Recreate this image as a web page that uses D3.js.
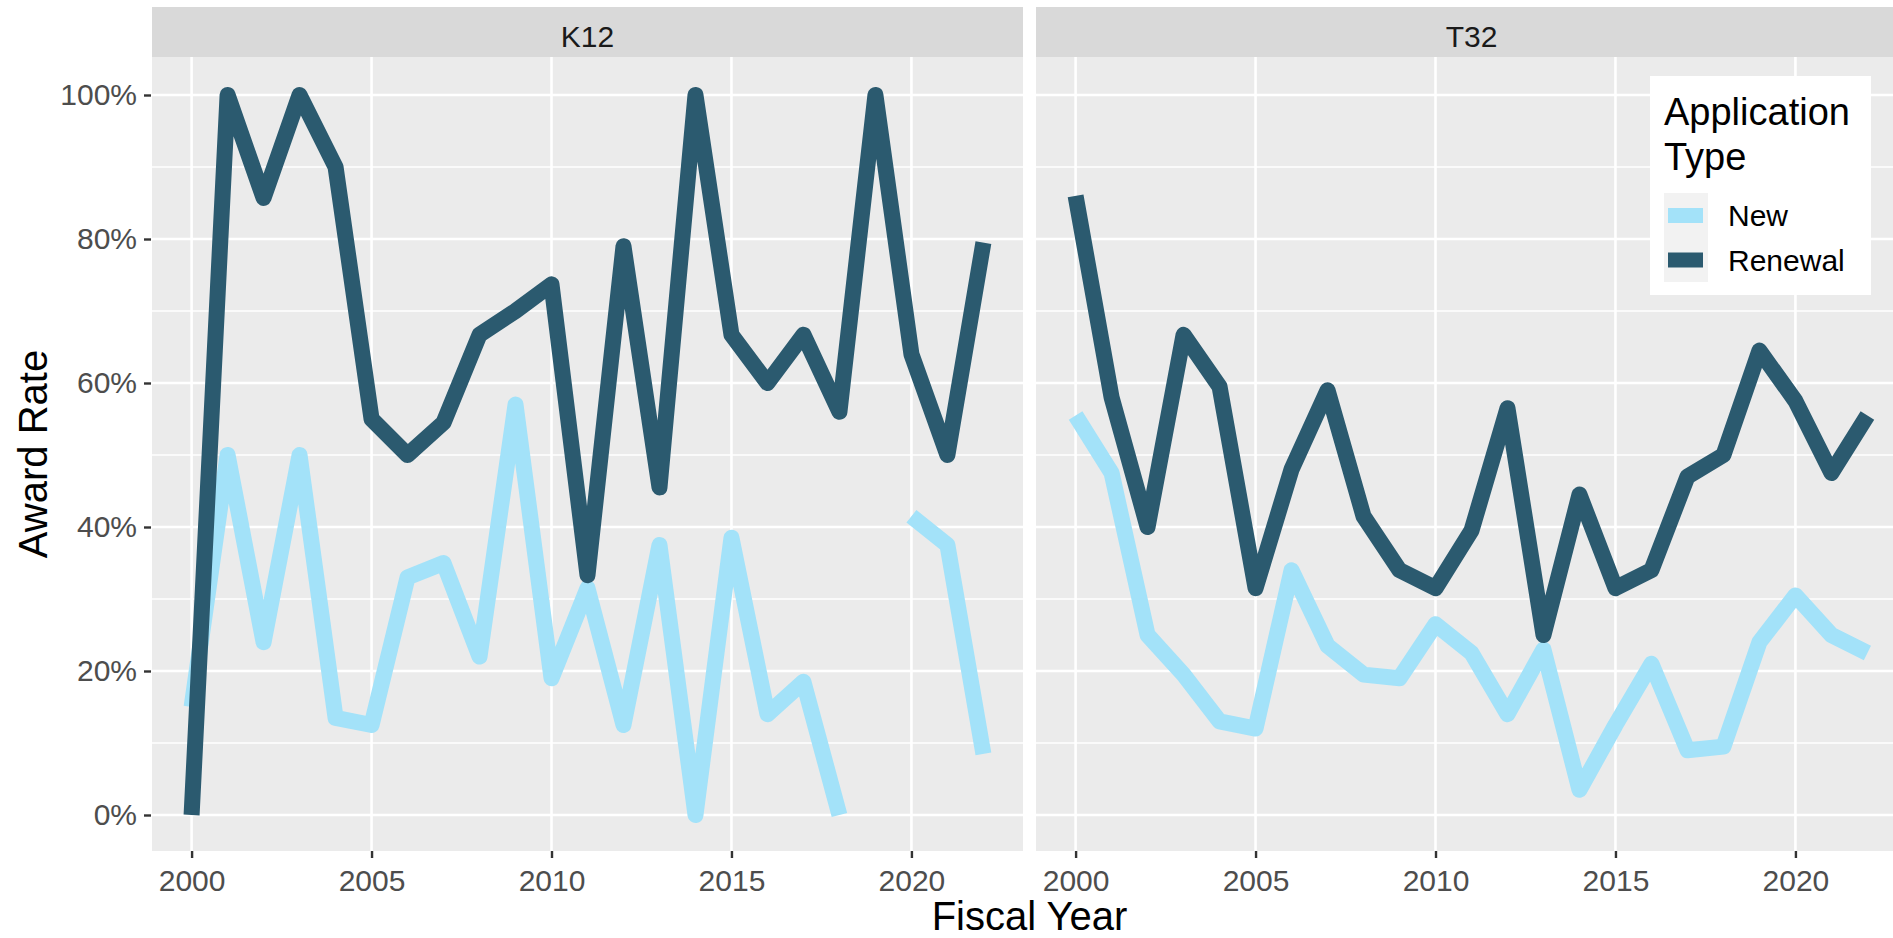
<!DOCTYPE html>
<html>
<head>
<meta charset="utf-8">
<script src="https://cdn.jsdelivr.net/npm/d3@7"></script>
<style>
  body { margin: 0; background: #fff; }
  svg { display: block; font-family: "Liberation Sans", Arial, sans-serif; }
</style>
</head>
<body>
<script>
// award rates (%) by fiscal year
let years = [2000, 2001, 2002, 2003, 2004, 2005, 2006, 2007, 2008, 2009, 2010, 2011,
             2012, 2013, 2014, 2015, 2016, 2017, 2018, 2019, 2020, 2021, 2022];
let facets = ["K12", "T32"];
let appTypes = ["New", "Renewal"];

let k12New     = [15, 50, 24, 50, 13.5, 12.5, 33, 35, 22, 57, 19, 31.5,
                  12.5, 37.5, 0, 38.5, 14, 18.5, 0, null, 41.5, 37.5, 8.5];
let k12Renewal = [0, 100, 85.7, 100, 90, 55, 50, 54.5, 66.7, 70, 73.7, 33.3,
                  79, 45.5, 100, 66.7, 60, 66.7, 56, 100, 64, 50, 79.5];
let t32New     = [55.5, 47.5, 25, 19.5, 13, 12, 34, 23.5, 19.5, 19, 26.5, 22.5,
                  14, 23, 3.5, 12.5, 21, 9, 9.5, 24, 30.5, 25, 22.5];
let t32Renewal = [86, 58, 40, 66.7, 59.5, 31.5, 48, 59, 41.5, 34, 31.5, 39.5,
                  56.5, 25, 44.5, 31.5, 34, 47, 50, 64.5, 57.5, 47.5, 55.5];

let yTicks = [0, 20, 40, 60, 80, 100];
let yMinor = [10, 30, 50, 70, 90];
let xTicks = [2000, 2005, 2010, 2015, 2020];
let colors = {New: "#A3E2F9", Renewal: "#2B5A6F"};

let series = {
    K12: {New: k12New, Renewal: k12Renewal},
    T32: {New: t32New, Renewal: t32Renewal}
};

function draw() {
    let W = 1893, H = 938;
    let panelLeft = 152, panelW = 871, gap = 13;
    let stripTop = 7, panelTop = 57, panelBottom = 851;

    let svg = d3.select("body").append("svg")
        .attr("width", W)
        .attr("height", H);

    svg.append("rect").attr("width", W).attr("height", H).attr("fill", "#fff");

    let y = d3.scaleLinear().domain([-5, 105]).range([panelBottom, panelTop + 2]);

    facets.forEach(function (f, i) {
        let x0 = panelLeft + i * (panelW + gap);
        let x = d3.scaleLinear().domain([1998.9, 2023.1]).range([x0, x0 + panelW]);
        let g = svg.append("g");

        // strip
        g.append("rect")
            .attr("x", x0).attr("y", stripTop)
            .attr("width", panelW).attr("height", panelTop - stripTop)
            .attr("fill", "#D9D9D9");
        g.append("text")
            .attr("x", x0 + panelW / 2).attr("y", 47)
            .attr("text-anchor", "middle")
            .attr("font-size", 30)
            .attr("fill", "#1A1A1A")
            .text(f);

        // panel background + grid
        g.append("rect")
            .attr("x", x0).attr("y", panelTop)
            .attr("width", panelW).attr("height", panelBottom - panelTop)
            .attr("fill", "#EBEBEB");

        g.selectAll(".ymin").data(yMinor).enter().append("line")
            .attr("x1", x0).attr("x2", x0 + panelW)
            .attr("y1", d => y(d)).attr("y2", d => y(d))
            .attr("stroke", "#fff").attr("stroke-width", 1.4);
        g.selectAll(".ymaj").data(yTicks).enter().append("line")
            .attr("x1", x0).attr("x2", x0 + panelW)
            .attr("y1", d => y(d)).attr("y2", d => y(d))
            .attr("stroke", "#fff").attr("stroke-width", 2.6);
        g.selectAll(".xmaj").data(xTicks).enter().append("line")
            .attr("x1", d => x(d)).attr("x2", d => x(d))
            .attr("y1", panelTop).attr("y2", panelBottom)
            .attr("stroke", "#fff").attr("stroke-width", 2.6);

        // lines
        let line = d3.line()
            .defined(d => d.v != null)
            .x(d => x(d.year))
            .y(d => y(d.v));

        appTypes.forEach(function (t) {
            let pts = years.map((yr, j) => ({year: yr, v: series[f][t][j]}));
            g.append("path")
                .datum(pts)
                .attr("d", line)
                .attr("fill", "none")
                .attr("stroke", colors[t])
                .attr("stroke-width", 16)
                .attr("stroke-linejoin", "round")
                .attr("stroke-linecap", "butt");
        });

        // x axis
        let xAxis = g.append("g")
            .attr("transform", "translate(0," + panelBottom + ")")
            .call(d3.axisBottom(x).tickValues(xTicks).tickFormat(d3.format("d"))
                .tickSize(7).tickPadding(12));
        xAxis.select(".domain").remove();
        xAxis.selectAll("line").attr("stroke", "#333").attr("stroke-width", 2.4);
        xAxis.selectAll("text").attr("font-size", 30).attr("fill", "#4D4D4D")
            .attr("font-family", "Liberation Sans, Arial, sans-serif");

        if (i === 0) {
            let yAxis = g.append("g")
                .attr("transform", "translate(" + (x0 - 1) + ",0)")
                .call(d3.axisLeft(y).tickValues(yTicks).tickFormat(d => d + "%")
                    .tickSize(7).tickPadding(7));
            yAxis.select(".domain").remove();
            yAxis.selectAll("line").attr("stroke", "#333").attr("stroke-width", 2.4);
            yAxis.selectAll("text").attr("font-size", 30).attr("fill", "#4D4D4D")
                .attr("font-family", "Liberation Sans, Arial, sans-serif");
        }
    });

    // axis titles
    svg.append("text")
        .attr("x", (panelLeft + panelLeft + 2 * panelW + gap) / 2)
        .attr("y", 930)
        .attr("text-anchor", "middle")
        .attr("font-size", 40)
        .attr("fill", "#000")
        .text("Fiscal Year");

    svg.append("text")
        .attr("transform", "translate(47," + ((panelTop + panelBottom) / 2) + ") rotate(-90)")
        .attr("text-anchor", "middle")
        .attr("font-size", 40)
        .attr("fill", "#000")
        .text("Award Rate");

    // legend
    let lg = svg.append("g").attr("transform", "translate(1650,76)");
    lg.append("rect").attr("width", 221).attr("height", 219).attr("fill", "#fff");
    lg.append("text").attr("x", 14).attr("y", 49).attr("font-size", 38).text("Application");
    lg.append("text").attr("x", 14).attr("y", 94).attr("font-size", 38).text("Type");
    lg.append("rect").attr("x", 14).attr("y", 117).attr("width", 44).attr("height", 89)
        .attr("fill", "#F2F2F2");
    let keys = lg.selectAll(".key").data(appTypes).enter().append("g")
        .attr("transform", (d, k) => "translate(0," + (117 + k * 44.5) + ")");
    keys.append("rect")
        .attr("x", 18).attr("y", 15).attr("width", 35).attr("height", 15)
        .attr("fill", d => colors[d]);
    keys.append("text")
        .attr("x", 78).attr("y", 33)
        .attr("font-size", 30)
        .attr("fill", "#000")
        .text(d => d);
}

draw();
</script>
</body>
</html>
